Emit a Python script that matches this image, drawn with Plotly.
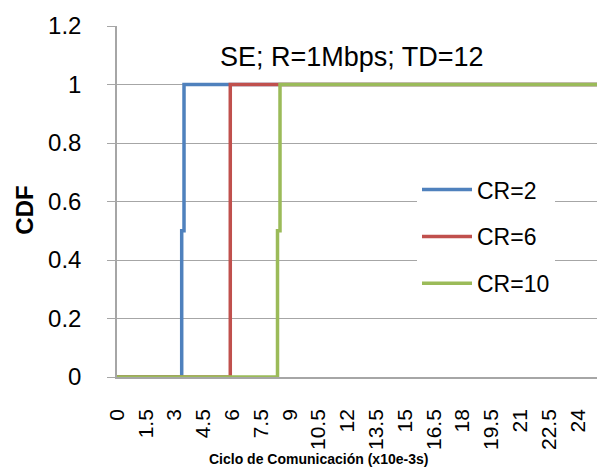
import plotly.graph_objects as go

# Step CDF data (x in units of 10e-3 s)
x_cr2 = [0, 3.37, 3.37, 3.49, 3.49, 25]
y_cr2 = [0, 0, 0.5, 0.5, 1, 1]
x_cr6 = [0, 5.9, 5.9, 25]
y_cr6 = [0, 0, 1, 1]
x_cr10 = [0, 8.36, 8.36, 8.49, 8.49, 25]
y_cr10 = [0, 0, 0.5, 0.5, 1, 1]

names = ["CR=2", "CR=6", "CR=10"]
colors = ["#4F81BD", "#C0504D", "#9BBB59"]
x_ticks = [0, 1.5, 3, 4.5, 6, 7.5, 9, 10.5, 12, 13.5, 15, 16.5, 18, 19.5, 21, 22.5, 24]
y_ticks = [0, 0.2, 0.4, 0.6, 0.8, 1, 1.2]
title_text = "SE; R=1Mbps; TD=12"
x_title = "Ciclo de Comunicación (x10e-3s)"
y_title = "CDF"

FONT = "Liberation Sans, Arial, sans-serif"

fig = go.Figure()
for xs, ys, n, c in zip([x_cr2, x_cr6, x_cr10], [y_cr2, y_cr6, y_cr10], names, colors):
    fig.add_trace(go.Scatter(x=xs, y=ys, mode="lines", name=n, legendgroup=n,
                             line=dict(color=c, width=3.5), cliponaxis=False))

fig.update_layout(
    width=609, height=470,
    margin=dict(l=117, r=12, t=20, b=93),
    paper_bgcolor="white", plot_bgcolor="white",
    font=dict(family=FONT, color="black"),
    showlegend=True,
    legend=dict(x=0.625, y=0.40, xanchor="left", yanchor="middle",
                font=dict(size=23, family=FONT), tracegroupgap=14,
                bgcolor="rgba(255,255,255,1)", itemwidth=50),
    xaxis=dict(range=[0, 25], tickmode="array", tickvals=x_ticks,
               ticktext=[str(v) for v in x_ticks], tickangle=-90,
               tickfont=dict(size=21, family=FONT), showgrid=False,
               showline=True, linecolor="#A6A6A6", linewidth=1.5,
               ticks="", ticklabelstandoff=22, zeroline=False),
    yaxis=dict(range=[0, 1.2], tickmode="array", tickvals=y_ticks,
               ticktext=["0", "0.2", "0.4", "0.6", "0.8", "1", "1.2"],
               tickfont=dict(size=24, family=FONT), showgrid=True,
               gridcolor="#A6A6A6", gridwidth=1.2,
               showline=True, linecolor="#A6A6A6", linewidth=1.5,
               ticks="outside", ticklen=8, tickcolor="#A6A6A6",
               ticklabelstandoff=21, zeroline=False),
    annotations=[
        dict(text=title_text, xref="paper", yref="y", x=0.49, y=1.093,
             showarrow=False, font=dict(size=27, family=FONT),
             xanchor="center", yanchor="middle"),
        dict(text="<b>" + x_title + "</b>", xref="paper", yref="paper",
             x=0.42, y=-0.235, showarrow=False, font=dict(size=14, family=FONT),
             xanchor="center", yanchor="middle"),
        dict(text="<b>" + y_title + "</b>", xref="paper", yref="paper",
             x=-0.193, y=0.475, showarrow=False, textangle=-90,
             font=dict(size=24, family=FONT), xanchor="center", yanchor="middle"),
    ],
)

fig.write_html("out.html")
